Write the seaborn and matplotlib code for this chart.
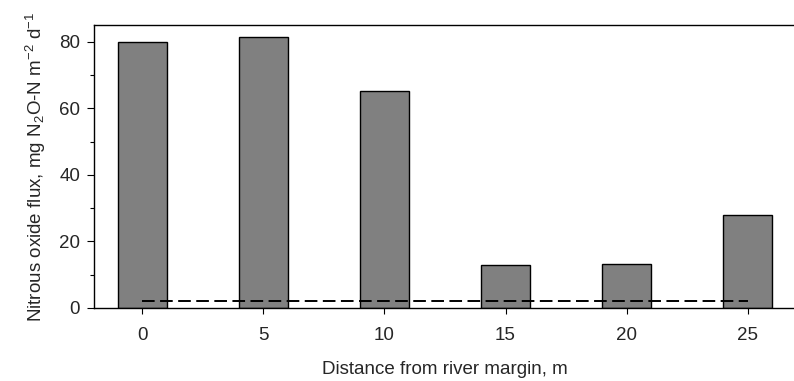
import matplotlib
matplotlib.use("Agg")
import matplotlib.pyplot as plt
import seaborn as sns
import pandas as pd
from matplotlib.ticker import MultipleLocator

distance = [0, 5, 10, 15, 20, 25]
flux = [80.0, 81.3, 65.2, 12.8, 13.3, 28.0]
threshold_x = [0, 25]
threshold_y = [2.0, 2.0]
xticks = [0, 5, 10, 15, 20, 25]
yticks = [0, 20, 40, 60, 80]

sns.set_style("ticks")
plt.rcParams['font.family'] = ['Liberation Sans', 'DejaVu Sans']
plt.rcParams['mathtext.fontset'] = 'custom'
plt.rcParams['mathtext.rm'] = 'Liberation Sans'
plt.rcParams['mathtext.it'] = 'Liberation Sans:italic'

df = pd.DataFrame({"distance": distance, "flux": flux})

fig = plt.figure(figsize=(7.94, 3.81), dpi=100)
ax = fig.add_axes([94/794, 73/381, 702/794, 283/381])

sns.barplot(data=df, x="distance", y="flux", native_scale=True, width=0.4,
            color="#808080", saturation=1, edgecolor="black", linewidth=1.0, ax=ax)
ax.plot(threshold_x, threshold_y, color="black", lw=1.4, ls=(0, (6.5, 2.8)))

ax.set_xlim(-2, 27)
ax.set_ylim(0, 85)
ax.set_xticks(xticks)
ax.set_xticklabels([str(v) for v in xticks])
ax.set_yticks(yticks)
ax.yaxis.set_minor_locator(MultipleLocator(10))
ax.tick_params(axis='both', which='major', labelsize=13.5, length=5, width=0.8, color='black', pad=5)
ax.tick_params(axis='y', which='minor', length=3, width=0.8, color='black')
ax.tick_params(axis='x', which='major', length=4, pad=10)

for s in ['left', 'top']:
    ax.spines[s].set_visible(True)
    ax.spines[s].set_color('black')
    ax.spines[s].set_linewidth(1.0)
ax.spines['right'].set_visible(False)
ax.spines['bottom'].set_color('black')
ax.spines['bottom'].set_linewidth(1.0)
ax.spines['bottom'].set_linestyle((0, (1, 1)))

ax.set_xlabel("Distance from river margin, m", fontsize=13.5, labelpad=12)
ax.set_ylabel(r"Nitrous oxide flux, mg N$_2$O-N m$^{-2}$ d$^{-1}$", fontsize=13.5, labelpad=8)

fig.savefig("out.png", dpi=100)
